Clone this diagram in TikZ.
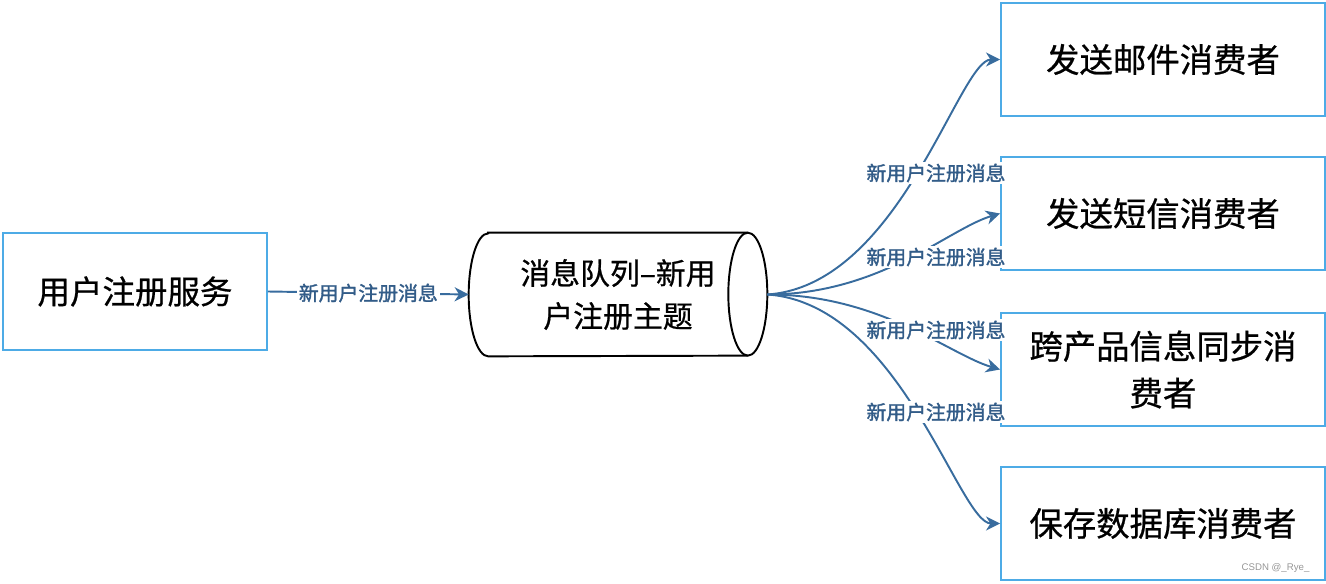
\documentclass[tikz,border=0pt]{standalone}
\usepackage{fontspec}
\usepackage{tikz}
\usetikzlibrary{arrows.meta, positioning}
\newfontfamily\cjk[FakeBold=0.7]{Noto Sans CJK SC}
\newfontfamily\cjkmsg[FakeBold=1.6]{Noto Sans CJK SC}
\newfontfamily\wmfont{Liberation Sans}
\definecolor{boxblue}{RGB}{77,171,230}
\definecolor{edgeblue}{RGB}{56,108,158}
\definecolor{labelblue}{RGB}{50,92,136}
\definecolor{markgray}{RGB}{150,150,150}

\begin{document}
\begin{tikzpicture}[x=0.02cm, y=0.02cm,
    svcbox/.style={draw=boxblue, line width=1.1pt, minimum width=6.48cm, minimum height=2.26cm, align=center, font=\cjk\fontsize{19}{26.7}\selectfont},
    flow/.style={edgeblue, line width=1.1pt, -{Stealth[length=8pt, width=8pt, inset=2.5pt]}},
    msg/.style={fill=white, inner sep=1pt, text=labelblue, font=\cjkmsg\fontsize{11.3}{13}\selectfont}]
\useasboundingbox (0,0) rectangle (1326,-584);
\node[svcbox, minimum width=5.28cm, minimum height=2.34cm, font=\cjk\fontsize{18.5}{26}\selectfont] (reg) at (135,-291.5) {用户注册服务};
\node[minimum width=5.96cm, minimum height=2.46cm, align=center, font=\cjk\fontsize{17}{24.4}\selectfont] (queue) at (618,-294.5) {消息队列–新用\\户注册主题};
% cylinder outline
\draw[line width=1.1pt] ([xshift=0.39cm]queue.north west) -- ([xshift=-0.39cm]queue.north east)
    arc[start angle=90, end angle=-90, x radius=0.39cm, y radius=1.23cm] -- ([xshift=0.39cm]queue.south west)
    arc[start angle=270, end angle=90, x radius=0.39cm, y radius=1.23cm] -- cycle;
\draw[line width=1.1pt] ([xshift=-0.39cm]queue.north east) arc[start angle=90, end angle=270, x radius=0.39cm, y radius=1.23cm];
% consumers
\node[svcbox] (mail) at (1163,-59.5) {发送邮件消费者};
\node[svcbox] (sms) at (1163,-213.5) {发送短信消费者};
\node[svcbox] (sync) at (1163,-369.5) {跨产品信息同步消\\费者};
\node[svcbox] (db) at (1163,-523.5) {保存数据库消费者};
% messages
\draw[flow] (reg.east) -- node[msg] (m0) {新用户注册消息} (queue.west);
\draw[flow] (queue.east) .. controls +(133,9) and +(-41,0) .. (mail.west);
\draw[flow] (queue.east) .. controls +(113,0) and +(-51,-15) .. (sms.west);
\draw[flow] (queue.east) .. controls +(113,0) and +(-51,15) .. (sync.west);
\draw[flow] (queue.east) .. controls +(133,-9) and +(-41,0) .. (db.west);
\node[msg] (m1) at (936,-173) {新用户注册消息};
\node[msg] (m2) at (936,-257) {新用户注册消息};
\node[msg] (m3) at (936,-330) {新用户注册消息};
\node[msg] (m4) at (936,-412) {新用户注册消息};
\node[text=markgray, font=\wmfont\fontsize{5.5}{6}\selectfont] (mark) at (1275.5,-568) {CSDN @\_Rye\_};
\end{tikzpicture}
\end{document}
